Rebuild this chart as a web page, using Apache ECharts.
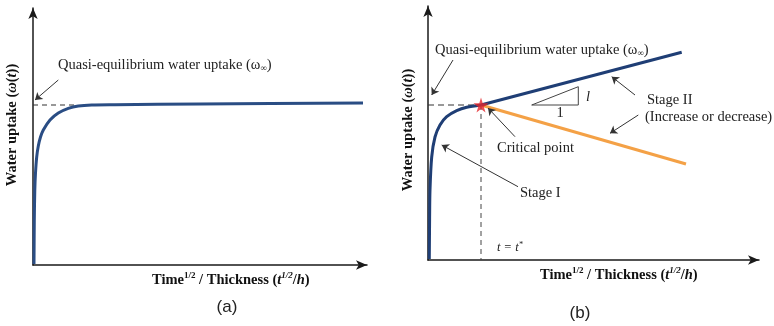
<!DOCTYPE html>
<html>
<head>
<meta charset="utf-8">
<script src="https://cdn.jsdelivr.net/npm/echarts@6/dist/echarts.min.js"></script>
<style>
  html, body { margin: 0; padding: 0; background: #fff; }
  #chart { width: 774px; height: 326px; }
</style>
</head>
<body>
<div id="chart"></div>
<script>
// units: arbitrary, both panels drawn from the origin of their axes
var curveA = [[1,1],[1.3,45],[1.8,75],[2.5,92],[3.7,108],[5.3,119],[7.5,128],[10.3,135],[17,145],[25.3,152],[35.3,156.7],[45.3,159],[58.7,160],[82,160.3],[167,161],[330,162]];
var dashA = [[0,160],[42,160]];
var arrowA = [[25.3,185],[2,165]];

var curveB = [[1.3,1],[1.6,40],[2,70],[3.7,103],[7,123],[12,135],[18.7,143.3],[28.7,149.3],[38.7,152.7],[53,155]];
var increaseB = [[53,155],[253.7,207.7]];
var decreaseB = [[53,155],[258,96]];
var critical = [[53,155]];
var dashBh = [[0,155],[53,155]];
var dashBv = [[53,155],[53,0]];
var slopeTri = [[103.7,155],[150.3,155],[150.3,173.3],[103.7,155]];
var arrowsB = [
  [[25,200],[3.7,165]],      // quasi-equilibrium
  [[87,123.3],[60,152]],     // critical point
  [[90,73.3],[13.7,115]],    // stage I
  [[207,165],[183.7,183.3]], // stage II, increase
  [[210.3,145],[182,126.7]]  // stage II, decrease
];

var serif = '"Liberation Serif", "DejaVu Serif", serif';
var navy = '#1f3e75';
var orange = '#f4a146';

function axisPair(gridIndex, xmax, ymax) {
  var line = {
    show: true,
    symbol: ['none', 'arrow'],
    symbolSize: [7, 11],
    lineStyle: { color: '#1a1a1a', width: 1.5 }
  };
  return {
    x: { type: 'value', gridIndex: gridIndex, min: 0, max: xmax, axisLine: line, axisTick: { show: false }, axisLabel: { show: false }, splitLine: { show: false } },
    y: { type: 'value', gridIndex: gridIndex, min: 0, max: ymax, axisLine: line, axisTick: { show: false }, axisLabel: { show: false }, splitLine: { show: false } }
  };
}

function arrowLines(list) {
  return list.map(function (a) {
    return [{ coord: a[0] }, { coord: a[1] }];
  });
}

var rich = {
  n: { fontFamily: serif, fontSize: 14.5, fill: '#222', lineHeight: 17 },
  sub: { fontFamily: serif, fontSize: 9, fill: '#222', verticalAlign: 'bottom', lineHeight: 13 },
  b: { fontFamily: serif, fontSize: 14.5, fontWeight: 'bold', fill: '#111', lineHeight: 17 },
  bi: { fontFamily: serif, fontSize: 14.5, fontWeight: 'bold', fontStyle: 'italic', fill: '#111', lineHeight: 17 },
  bsup: { fontFamily: serif, fontSize: 9, fontWeight: 'bold', fill: '#111', verticalAlign: 'top', lineHeight: 13 },
  isup: { fontFamily: serif, fontSize: 9, fontWeight: 'bold', fontStyle: 'italic', fill: '#111', verticalAlign: 'top', lineHeight: 13 },
  it: { fontFamily: serif, fontSize: 12.5, fontStyle: 'italic', fill: '#222', lineHeight: 15 },
  itsup: { fontFamily: serif, fontSize: 8, fontStyle: 'italic', fill: '#222', verticalAlign: 'top', lineHeight: 11 }
};

var quasiText = '{n|Quasi-equilibrium water uptake (}{n|ω}{sub|∞}{n|)}';
var yText = '{b|Water uptake (}{bi|ω}{b|(}{bi|t}{b|))}';
var xText = '{b|Time}{bsup|1/2}{b| / Thickness (}{bi|t}{isup|1/2}{b|/}{bi|h}{b|)}';

function label(x, y, text, opts) {
  opts = opts || {};
  return {
    type: 'text',
    x: x,
    y: y,
    rotation: opts.rotation || 0,
    style: {
      text: text,
      rich: rich,
      fontFamily: opts.font || serif,
      fontSize: opts.size || 14.5,
      fontStyle: opts.italic ? 'italic' : 'normal',
      fill: '#222',
      align: opts.align || 'left',
      verticalAlign: 'middle',
      textAlign: opts.align || 'left',
      textVerticalAlign: 'middle'
    }
  };
}

var chart = echarts.init(document.getElementById('chart'));
var axA = axisPair(0, 334, 257);
var axB = axisPair(1, 331, 254);

var option = {
  animation: false,
  grid: [
    { left: 33, top: 8, width: 334, height: 257 },
    { left: 428, top: 6, width: 331, height: 254 }
  ],
  xAxis: [axA.x, axB.x],
  yAxis: [axA.y, axB.y],
  graphic: [
    label(58, 65, quasiText),
    label(12, 125, yText, { rotation: Math.PI / 2, align: 'center' }),
    label(152, 280, xText),
    label(227, 307, '(a)', { font: '"Liberation Sans", Arial, sans-serif', size: 17, align: 'center' }),
    label(435, 50, quasiText),
    label(408, 130, yText, { rotation: Math.PI / 2, align: 'center' }),
    label(540, 275, xText),
    label(580, 313, '(b)', { font: '"Liberation Sans", Arial, sans-serif', size: 17, align: 'center' }),
    label(497, 148, 'Critical point'),
    label(520, 193, 'Stage I'),
    label(647, 100, 'Stage II'),
    label(645, 117, '(Increase or decrease)'),
    label(586, 97, 'l', { italic: true }),
    label(560, 113, '1', { align: 'center' }),
    label(497, 248, '{it|t = t}{itsup|*}')
  ],
  series: [
    {
      type: 'line', xAxisIndex: 0, yAxisIndex: 0, data: dashA,
      symbol: 'none', lineStyle: { color: '#333', width: 1.2, type: [5, 4] },
      markLine: {
        silent: true, symbol: ['none', 'arrow'], symbolSize: 7,
        label: { show: false },
        lineStyle: { color: '#333', width: 1, type: 'solid' },
        data: arrowLines([arrowA])
      }
    },
    {
      type: 'line', xAxisIndex: 0, yAxisIndex: 0, data: curveA, smooth: 0.3,
      symbol: 'none', lineStyle: { color: '#2a4d84', width: 3 }
    },
    {
      type: 'line', xAxisIndex: 1, yAxisIndex: 1, data: dashBh,
      symbol: 'none', lineStyle: { color: '#333', width: 1.2, type: [6, 4] },
      markLine: {
        silent: true, symbol: ['none', 'arrow'], symbolSize: 7,
        label: { show: false },
        lineStyle: { color: '#333', width: 1, type: 'solid' },
        data: arrowLines(arrowsB)
      }
    },
    {
      type: 'line', xAxisIndex: 1, yAxisIndex: 1, data: dashBv,
      symbol: 'none', lineStyle: { color: '#444', width: 1, type: [5, 4] }
    },
    {
      type: 'line', xAxisIndex: 1, yAxisIndex: 1, data: slopeTri,
      symbol: 'none', lineStyle: { color: '#444', width: 1 }
    },
    {
      type: 'line', xAxisIndex: 1, yAxisIndex: 1, data: decreaseB,
      symbol: 'none', lineStyle: { color: orange, width: 3 }
    },
    {
      type: 'line', xAxisIndex: 1, yAxisIndex: 1, data: curveB, smooth: 0.3,
      symbol: 'none', lineStyle: { color: navy, width: 3 }
    },
    {
      type: 'line', xAxisIndex: 1, yAxisIndex: 1, data: increaseB,
      symbol: 'none', lineStyle: { color: navy, width: 3 }
    },
    {
      type: 'scatter', xAxisIndex: 1, yAxisIndex: 1, data: critical,
      symbol: 'path://M50,0 L61,35 L98,35 L68,57 L79,91 L50,70 L21,91 L32,57 L2,35 L39,35 Z',
      symbolSize: 15, itemStyle: { color: '#e3262b' }, z: 5
    }
  ]
};
chart.setOption(option);
window.addEventListener('resize', function () {
  chart.resize();
});
</script>
</body>
</html>
